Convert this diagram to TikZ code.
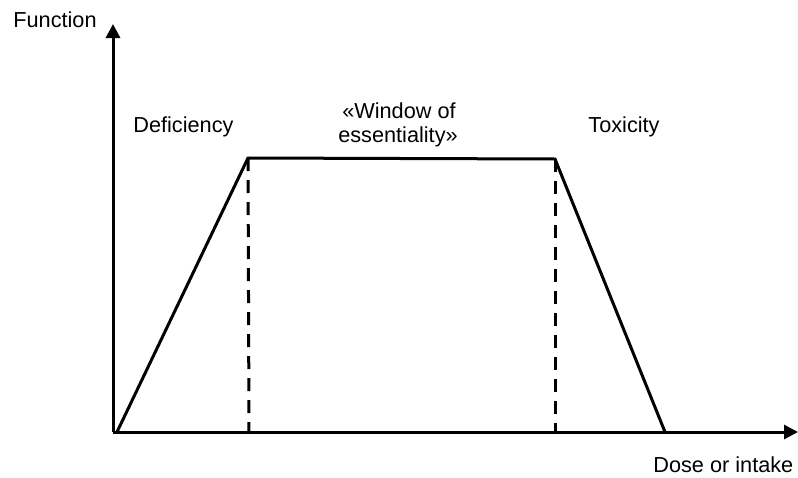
\documentclass[tikz,border=0pt]{standalone}
\usepackage{fontspec}
\setmainfont{Liberation Sans}
\usetikzlibrary{arrows.meta}
\begin{document}
\begin{tikzpicture}[x=0.5pt,y=-0.5pt,
  axis/.style={line width=1.5pt,-{Triangle[width=7pt,length=7pt]}},
  curve/.style={line width=1.5pt,line join=miter},
  guide/.style={line width=1.5pt,dash pattern=on 6.5pt off 4.5pt},
  lbl/.style={inner sep=0pt,font=\fontsize{10.85}{12}\selectfont}]
\useasboundingbox (0,0) rectangle (798,477);
\coordinate (O) at (113,432);
\coordinate (ytop) at (113,24);
\coordinate (xend) at (798,432);
\coordinate (A) at (117,432);
\coordinate (B) at (248,158);
\coordinate (C) at (555,159);
\coordinate (D) at (665,432);
\coordinate (Bb) at (249,432);
\coordinate (Cb) at (555,432);
\draw[guide] (B) -- (Bb);
\draw[guide] (C) -- (Cb);
\draw[axis] (O) -- (ytop);
\draw[axis] (O) -- (xend);
\draw[curve] (A) -- (B) -- (C) -- (D);
\node[lbl,anchor=base] (fn) at (55,27) {Function};
\node[lbl,anchor=base west] (def) at (133,132) {Deficiency};
\node[lbl,anchor=base] (win1) at (399,118) {«Window of};
\node[lbl,anchor=base] (win2) at (398,142) {essentiality»};
\node[lbl,anchor=base west] (tox) at (588,132) {Toxicity};
\node[lbl,anchor=base west] (dose) at (653,472) {Dose or intake};
\end{tikzpicture}
\end{document}
